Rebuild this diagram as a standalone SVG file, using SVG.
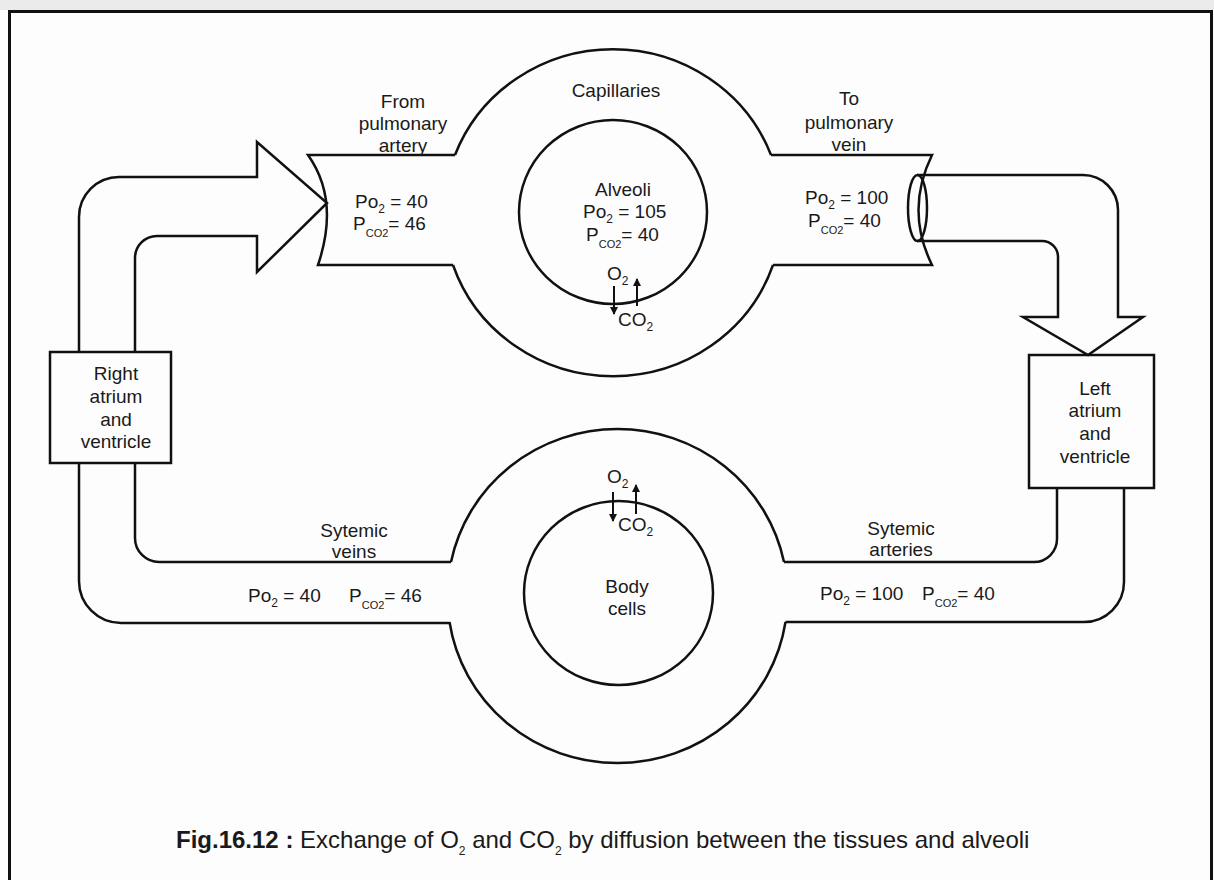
<svg xmlns="http://www.w3.org/2000/svg" width="1214" height="880" viewBox="0 0 1214 880">
<defs>
<style>
.ln{fill:none;stroke:#111;stroke-width:2.5;stroke-linejoin:miter}
.ga{fill:none;stroke:#111;stroke-width:2}
.t{font-family:"Liberation Sans",Arial,sans-serif;font-size:19px;fill:#1a1a1a}
.c{text-anchor:middle}
.s{font-size:12px}
.sc{font-size:11px}
.cap{font-size:24px}
.b{font-weight:bold}
</style>
<marker id="ah" markerWidth="8" markerHeight="8" refX="7" refY="4" orient="auto" markerUnits="userSpaceOnUse"><path d="M0,0 L8,4 L0,8 Z" fill="#111"/></marker>
</defs>
<g id="frame">
<rect x="0" y="0" width="1214" height="880" fill="#fdfdfd"/>
<rect x="0" y="0" width="1214" height="10" fill="#ebebeb"/>
<rect x="9.5" y="11.5" width="1202" height="900" fill="none" stroke="#111" stroke-width="3"/>
</g>
<g id="connectors">
<path id="to-lungs-arrow" class="ln" d="M79,352 V217 A40,40 0 0 1 119,177 H257 V142 L327,203 L257,272 V236 H157 A22,22 0 0 0 135,258 V352"/>
<path id="to-left-heart-arrow" class="ln" d="M917,175 H1083 A35,35 0 0 1 1118,210 V317 H1143 L1088,355 L1023,317 H1058 V257 A16,16 0 0 0 1042,241 H917"/>
<path id="systemic-veins" class="ln" d="M79,463 V581 A42,42 0 0 0 121,623 H449.5 M135,463 V538 A24,24 0 0 0 159,562 H451"/>
<path id="systemic-arteries" class="ln" d="M1057,488 V539 A23,23 0 0 1 1034,562 H784 M1124,488 V582 A40,40 0 0 1 1084,622 H785.5"/>
<path class="ga" d="M614,286 V314" marker-end="url(#ah)"/>
<path class="ga" d="M637,306 V279" marker-end="url(#ah)"/>
<path class="ga" d="M613,492 V521" marker-end="url(#ah)"/>
<path class="ga" d="M636,514 V485" marker-end="url(#ah)"/>
</g>
<g id="pulmonary-capillaries">
<path class="ln" d="M455,155 A169,164 0 0 1 771,155 M453,265 A169,164 0 0 0 773,265"/>
<path class="ln" d="M455,155 H308 Q340,200 318,265 H453"/>
<path class="ln" d="M771,155 H932 Q905,210 932,265 H773"/>
<ellipse class="ln" cx="917.5" cy="208" rx="9.5" ry="33"/>
<text class="t c" x="403" y="108">From</text>
<text class="t c" x="403" y="130">pulmonary</text>
<text class="t c" x="403" y="152">artery</text>
<text class="t c" x="616" y="97">Capillaries</text>
<text class="t" x="355" y="208">Po<tspan class="s" dy="5">2</tspan><tspan dy="-5"> = 40</tspan></text>
<text class="t" x="353" y="230">P<tspan class="sc" dy="7">CO2</tspan><tspan dy="-7">= 46</tspan></text>
<text class="t c" x="849" y="105">To</text>
<text class="t c" x="849" y="129">pulmonary</text>
<text class="t c" x="849" y="151">vein</text>
<text class="t" x="805" y="204">Po<tspan class="s" dy="5">2</tspan><tspan dy="-5"> = 100</tspan></text>
<text class="t" x="808" y="227">P<tspan class="sc" dy="7">CO2</tspan><tspan dy="-7">= 40</tspan></text>
<text class="t" x="607" y="280">O<tspan class="s" dy="5">2</tspan></text>
<text class="t" x="618" y="326">CO<tspan class="s" dy="5">2</tspan></text>
</g>
<g id="alveoli">
<ellipse class="ln" cx="613" cy="212" rx="94" ry="92"/>
<text class="t c" x="623" y="196">Alveoli</text>
<text class="t" x="583" y="218">Po<tspan class="s" dy="5">2</tspan><tspan dy="-5"> = 105</tspan></text>
<text class="t" x="586" y="241">P<tspan class="sc" dy="7">CO2</tspan><tspan dy="-7">= 40</tspan></text>
</g>
<g id="right-heart">
<rect class="ln" x="50" y="352" width="121" height="111"/>
<text class="t c" x="116" y="380">Right</text>
<text class="t c" x="116" y="403">atrium</text>
<text class="t c" x="116" y="426">and</text>
<text class="t c" x="116" y="448">ventricle</text>
</g>
<g id="left-heart">
<rect class="ln" x="1029" y="355" width="125" height="133"/>
<text class="t c" x="1095" y="395">Left</text>
<text class="t c" x="1095" y="417">atrium</text>
<text class="t c" x="1095" y="440">and</text>
<text class="t c" x="1095" y="463">ventricle</text>
</g>
<g id="body-capillaries">
<path class="ln" d="M451,562 A170,166.5 0 0 1 784,562 M449.5,622 A170,166.5 0 0 0 785.5,622"/>
<text class="t c" x="354" y="537">Sytemic</text>
<text class="t c" x="354" y="558">veins</text>
<text class="t" x="248" y="602">Po<tspan class="s" dy="5">2</tspan><tspan dy="-5"> = 40</tspan></text>
<text class="t" x="349" y="602">P<tspan class="sc" dy="7">CO2</tspan><tspan dy="-7">= 46</tspan></text>
<text class="t c" x="901" y="535">Sytemic</text>
<text class="t c" x="901" y="556">arteries</text>
<text class="t" x="820" y="600">Po<tspan class="s" dy="5">2</tspan><tspan dy="-5"> = 100</tspan></text>
<text class="t" x="922" y="600">P<tspan class="sc" dy="7">CO2</tspan><tspan dy="-7">= 40</tspan></text>
<text class="t" x="607" y="483">O<tspan class="s" dy="5">2</tspan></text>
<text class="t" x="618" y="531">CO<tspan class="s" dy="5">2</tspan></text>
</g>
<g id="body-cells">
<ellipse class="ln" cx="618.5" cy="593" rx="94.5" ry="92"/>
<text class="t c" x="627" y="593">Body</text>
<text class="t c" x="627" y="615">cells</text>
</g>
<g id="caption">
<text class="t cap" x="176" y="848"><tspan class="b">Fig.16.12 :</tspan> Exchange of O<tspan class="s" dy="7">2</tspan><tspan dy="-7"> and CO</tspan><tspan class="s" dy="7">2</tspan><tspan dy="-7"> by diffusion between the tissues and alveoli</tspan></text>
</g>
</svg>
